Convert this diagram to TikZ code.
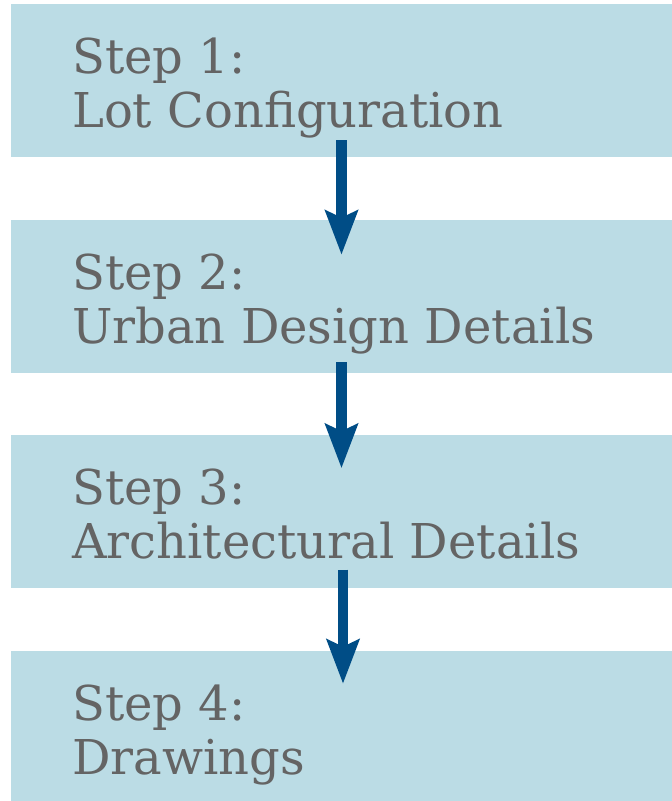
\documentclass[tikz,border=0pt]{standalone}
\usepackage{fontspec}
\setmainfont{DejaVu Serif}
\usetikzlibrary{arrows.meta}
\definecolor{boxblue}{HTML}{BBDCE5}
\definecolor{arrowblue}{HTML}{004D86}
\definecolor{textgray}{HTML}{646464}
\tikzset{
    stepbox/.style={fill=boxblue, minimum width=661pt, minimum height=153pt, inner sep=0pt},
    steplabel/.style={text=textgray, align=left, inner sep=0pt, anchor=base west,
        font=\fontsize{48}{54}\selectfont},
    steparrow/.style={arrowblue, line width=10.5pt, -{Stealth[length=44pt, width=32pt, inset=7pt]}}
}
\begin{document}
\begin{tikzpicture}[x=1pt, y=1pt]
    \useasboundingbox (0, 0) rectangle (672, -801);
    \node [stepbox] (box1) at (341.5, -80.5) {};
    \node [stepbox] (box2) at (341.5, -296.5) {};
    \node [stepbox] (box3) at (341.5, -511) {};
    \node [stepbox] (box4) at (341.5, -727.5) {};
    \node [steplabel] (lbl1) at (72, -127) {Step 1:\\Lot Configuration};
    \node [steplabel] (lbl2) at (72, -343) {Step 2:\\Urban Design Details};
    \node [steplabel] (lbl3) at (72, -558) {Step 3:\\Architectural Details};
    \node [steplabel] (lbl4) at (72, -774) {Step 4:\\Drawings};
    \draw [steparrow] ([yshift=17pt]box1.south) -- ([yshift=-35pt]box2.north);
    \draw [steparrow] ([yshift=11pt]box2.south) -- ([yshift=-34pt]box3.north);
    \draw [steparrow] ([xshift=1.5pt, yshift=18pt]box3.south) -- ([xshift=1.5pt, yshift=-33pt]box4.north);
\end{tikzpicture}
\end{document}
